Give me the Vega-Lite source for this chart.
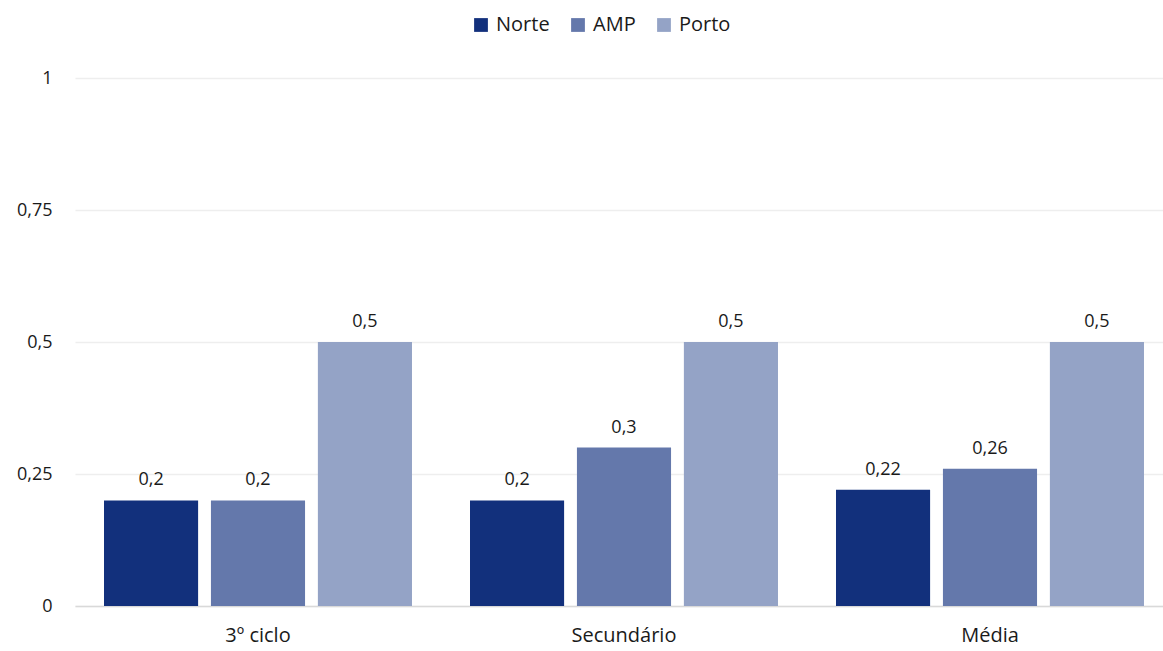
{
  "$schema": "https://vega.github.io/schema/vega-lite/v6.json",
  "width": 1088,
  "height": 528,
  "autosize": {"type": "none"},
  "padding": {"left": 75, "top": 78, "right": 0, "bottom": 45},
  "background": "white",
  "config": {
    "locale": {"number": {"decimal": ",", "thousands": ".", "grouping": [3], "currency": ["", " €"]}},
    "view": {"stroke": null},
    "font": "Open Sans"
  },
  "data": {
    "values": [
      {"nivel": "3º ciclo", "regiao": "Norte", "valor": 0.2},
      {"nivel": "3º ciclo", "regiao": "AMP", "valor": 0.2},
      {"nivel": "3º ciclo", "regiao": "Porto", "valor": 0.5},
      {"nivel": "Secundário", "regiao": "Norte", "valor": 0.2},
      {"nivel": "Secundário", "regiao": "AMP", "valor": 0.3},
      {"nivel": "Secundário", "regiao": "Porto", "valor": 0.5},
      {"nivel": "Média", "regiao": "Norte", "valor": 0.22},
      {"nivel": "Média", "regiao": "AMP", "valor": 0.26},
      {"nivel": "Média", "regiao": "Porto", "valor": 0.5}
    ]
  },
  "encoding": {
    "x": {
      "field": "nivel",
      "type": "nominal",
      "sort": ["3º ciclo", "Secundário", "Média"],
      "scale": {"paddingInner": 0.1585, "paddingOuter": 0.0656, "align": 0.604},
      "axis": {
        "title": null,
        "labelAngle": 0,
        "ticks": false,
        "domainColor": "#d9d9d9",
        "domainWidth": 1.5,
        "labelFontSize": 20,
        "labelColor": "#1a1a1a",
        "labelPadding": 19,
        "labelFont": "Open Sans"
      }
    },
    "xOffset": {
      "field": "regiao",
      "type": "nominal",
      "sort": ["Norte", "AMP", "Porto"],
      "scale": {"paddingInner": 0.12, "paddingOuter": 0}
    },
    "y": {
      "field": "valor",
      "type": "quantitative",
      "scale": {"domain": [0, 1], "nice": false},
      "axis": {
        "title": null,
        "values": [0, 0.25, 0.5, 0.75, 1],
        "format": ".2~f",
        "domain": false,
        "ticks": false,
        "gridColor": "#eeeeee",
        "gridWidth": 1.5,
        "labelFontSize": 18,
        "labelColor": "#1a1a1a",
        "labelPadding": 23
      }
    }
  },
  "layer": [
    {
      "mark": {"type": "bar"},
      "encoding": {
        "color": {
          "field": "regiao",
          "type": "nominal",
          "sort": ["Norte", "AMP", "Porto"],
          "scale": {"domain": ["Norte", "AMP", "Porto"], "range": ["#12307c", "#6478ab", "#94a3c6"]},
          "legend": {
            "title": null,
            "orient": "none",
            "direction": "horizontal",
            "legendX": 396,
            "legendY": -63,
            "symbolType": "square",
            "symbolSize": 190,
            "symbolStrokeWidth": 0,
            "symbolOpacity": 1,
            "labelFontSize": 20,
            "labelColor": "#1a1a1a",
            "labelOffset": 5,
            "columnPadding": 18
          }
        }
      }
    },
    {
      "mark": {"type": "text", "baseline": "bottom", "dy": -11, "fontSize": 18, "color": "#1a1a1a"},
      "encoding": {
        "text": {"field": "valor", "type": "quantitative", "format": ".2~f"}
      }
    }
  ]
}
